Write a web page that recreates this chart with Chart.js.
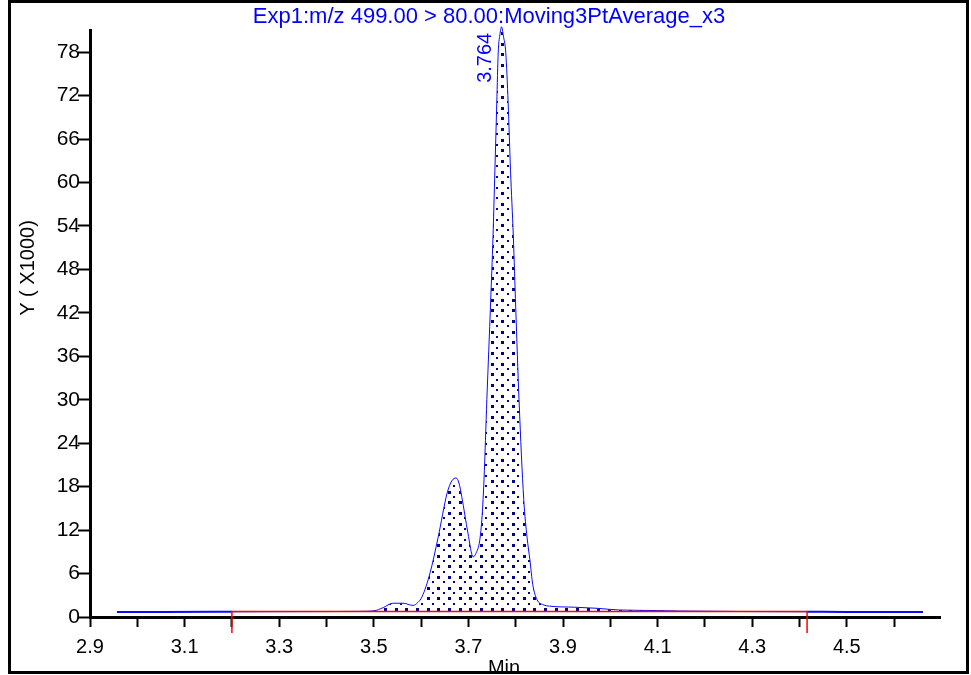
<!DOCTYPE html>
<html>
<head>
<meta charset="UTF-8">
<title>Exp1 m/z 499 &gt; 80</title>
<script src="https://cdn.jsdelivr.net/npm/chart.js"></script>
<style>
    body { margin: 0; background: #fff; }
    canvas { display: block; }
</style>
</head>
<body>
<canvas id="chrom" width="971" height="675"></canvas>
<script>
// chromatogram, time in min, intensity in thousands
const times = [2.957, 3.05, 3.2, 3.3, 3.4, 3.47, 3.5, 3.52, 3.54, 3.562, 3.583, 3.593, 3.602, 3.619, 3.636,
    3.655, 3.665, 3.674, 3.680, 3.686, 3.699, 3.710, 3.716, 3.724, 3.729, 3.733, 3.739, 3.747, 3.752, 3.756,
    3.760, 3.763, 3.767, 3.770, 3.774, 3.779, 3.784, 3.789, 3.795, 3.800, 3.807, 3.817, 3.824, 3.830, 3.836,
    3.845, 3.858, 3.872, 3.925, 3.972, 4.0, 4.02, 4.084, 4.147, 4.295, 4.416, 4.5, 4.661];
const intensity = [0.70, 0.70, 0.72, 0.74, 0.75, 0.78, 0.85, 1.3, 1.9, 1.9, 1.6, 2.0, 2.8, 6.1, 11.0,
    17.1, 18.8, 19.2, 18.5, 16.6, 11.6, 8.3, 8.8, 10.6, 14.0, 19.0, 30.0, 43.5, 52.5, 61.7,
    71.0, 77.9, 80.6, 81.5, 80.2, 77.9, 71.0, 61.7, 52.5, 42.8, 30.0, 16.2, 11.0, 7.9, 4.5,
    2.4, 1.7, 1.5, 1.35, 1.2, 1.05, 0.97, 0.9, 0.83, 0.75, 0.72, 0.70, 0.70];

// integration baseline (red) and its end markers
const baseStart = 3.2;
const baseEnd = 4.416;
const baseLevel = 0.76;
const markerLow = -2.2;

const titleText = 'Exp1:m/z 499.00 > 80.00:Moving3PtAverage_x3';
const peakLabel = '3.764';
const yTitle = 'Y ( X1000)';
const xTitle = 'Min';

Chart.defaults.font.family = "'Liberation Sans', Arial, sans-serif";
Chart.defaults.color = '#000';

const canvas = document.getElementById('chrom');
const ctx = canvas.getContext('2d');

function dotPattern() {
    const c = document.createElement('canvas');
    c.width = 32; c.height = 32;
    const g = c.getContext('2d');
    g.fillStyle = '#00008b';
    const rows = [0, 5, 11, 16, 21, 27];
    rows.forEach((y, r) => {
        const xs = r % 2 ? [5, 16, 27] : [0, 11, 21];
        const sz = r % 2 ? 2 : 3;
        xs.forEach(x => g.fillRect(x, y, sz, sz));
    });
    return ctx.createPattern(c, 'repeat');
}

const curve = times.map((t, i) => ({ x: t, y: intensity[i] }));
const areaPts = curve.filter(p => p.x >= baseStart && p.x <= baseEnd);
const peakIdx = intensity.indexOf(Math.max(...intensity));

const extras = {
    id: 'extras',
    afterDraw(chart) {
        const c = chart.ctx;
        const xs = chart.scales.x, ys = chart.scales.y;
        c.save();
        // peak label
        const px = xs.getPixelForValue(times[peakIdx]);
        const py = ys.getPixelForValue(intensity[peakIdx]);
        c.fillStyle = '#0000ff';
        c.font = "20px 'Liberation Sans', Arial, sans-serif";
        c.translate(px - 6, py + 6);
        c.rotate(-Math.PI / 2);
        c.textAlign = 'right';
        c.textBaseline = 'bottom';
        c.fillText(peakLabel, 0, 0);
        c.restore();

        c.save();
        c.fillStyle = '#000';
        c.font = "20px 'Liberation Sans', Arial, sans-serif";
        c.translate(28, 268);
        c.rotate(-Math.PI / 2);
        c.textAlign = 'center';
        c.textBaseline = 'middle';
        c.fillText(yTitle, 0, 0);
        c.restore();

        c.save();
        c.fillStyle = '#000';
        c.font = "20px 'Liberation Sans', Arial, sans-serif";
        c.textAlign = 'center';
        c.textBaseline = 'alphabetic';
        c.fillText(xTitle, 504, 674);
        // frame
        c.strokeStyle = '#000';
        c.lineWidth = 3;
        c.strokeRect(9.5, 1.5, 958, 671);
        c.restore();
    }
};

new Chart(ctx, {
    type: 'line',
    data: {
        datasets: [{
            data: [
                { x: baseStart, y: markerLow }, { x: baseStart, y: baseLevel },
                { x: baseEnd, y: baseLevel }, { x: baseEnd, y: markerLow }
            ],
            borderColor: '#ff0000',
            borderWidth: 1.5,
            pointRadius: 0,
            tension: 0,
            clip: false,
            order: 0
        }, {
            data: curve,
            borderColor: '#0a0aff',
            borderWidth: 1,
            pointRadius: 0,
            cubicInterpolationMode: 'monotone',
            clip: false,
            segment: {
                borderWidth: s => (s.p1.parsed.x <= baseStart || s.p0.parsed.x >= baseEnd) ? 2 : 1
            },
            order: 1
        }, {
            data: areaPts,
            borderWidth: 0,
            borderColor: 'rgba(0,0,0,0)',
            backgroundColor: dotPattern(),
            pointRadius: 0,
            cubicInterpolationMode: 'monotone',
            fill: { value: baseLevel },
            clip: false,
            order: 2
        }]
    },
    options: {
        responsive: false,
        animation: false,
        events: [],
        layout: { padding: { left: 7, top: 0, right: 0, bottom: 0 } },
        plugins: {
            legend: { display: false },
            tooltip: { enabled: false },
            title: {
                display: true,
                text: titleText,
                color: '#0000ff',
                font: { size: 22, weight: 'normal' },
                padding: { top: 4, bottom: 0 }
            }
        },
        scales: {
            x: {
                type: 'linear',
                min: 2.9,
                max: 4.697,
                border: { color: '#000', width: 3 },
                grid: { drawOnChartArea: false, tickLength: 10, tickWidth: 2, tickColor: '#000' },
                ticks: {
                    stepSize: 0.1,
                    includeBounds: false,
                    autoSkip: false,
                    maxRotation: 0,
                    padding: 8,
                    font: { size: 20 },
                    callback: (v, i) => i % 2 === 0 ? v.toFixed(1) : ''
                },
                afterFit: s => { s.height = 58; s.paddingRight = 31; s.paddingLeft = 0; }
            },
            y: {
                min: 0,
                max: 81,
                border: { color: '#000', width: 3 },
                grid: { drawOnChartArea: false, tickLength: 12, tickWidth: 2, tickColor: '#000' },
                ticks: {
                    stepSize: 6,
                    includeBounds: false,
                    padding: -2,
                    font: { size: 21 }
                },
                afterFit: s => { s.width = 83; s.paddingTop = 0; s.paddingBottom = 0; }
            }
        }
    },
    plugins: [extras]
});
</script>
</body>
</html>
